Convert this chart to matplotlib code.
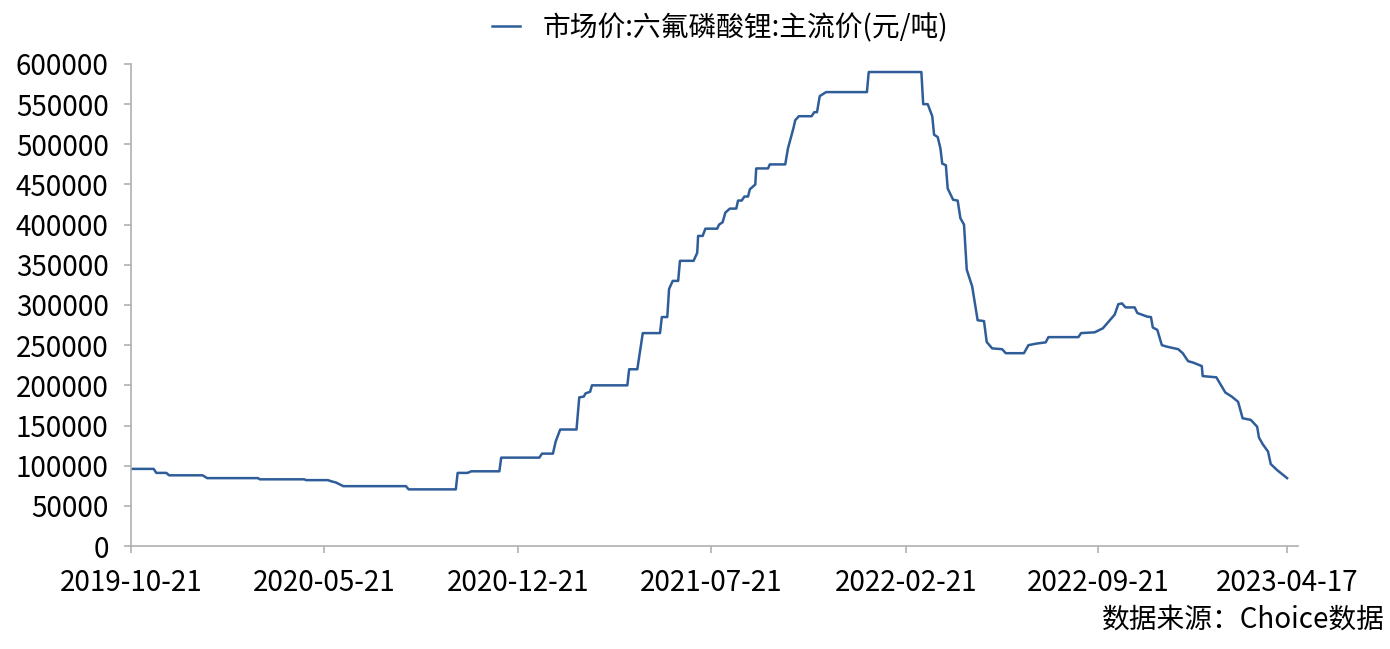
import matplotlib
matplotlib.use("Agg")
import matplotlib.pyplot as plt
import matplotlib.dates as mdates
import pandas as pd

plt.rcParams['font.family'] = ['Noto Sans CJK SC', 'DejaVu Sans']

# 市场价:六氟磷酸锂:主流价 (元/吨)，按图读取的拐点
dates = [
    "2019-10-21", "2019-11-15", "2019-11-18", "2019-11-29", "2019-12-02",
    "2020-01-08", "2020-01-13", "2020-03-09", "2020-03-11", "2020-04-29",
    "2020-05-01", "2020-05-25", "2020-05-29", "2020-06-03", "2020-06-11",
    "2020-08-19", "2020-08-22", "2020-10-13", "2020-10-15", "2020-10-26",
    "2020-10-30", "2020-11-30", "2020-12-02", "2021-01-13", "2021-01-16",
    "2021-01-28", "2021-01-31", "2021-02-05", "2021-02-23", "2021-02-26",
    "2021-03-03", "2021-03-05", "2021-03-10", "2021-03-12", "2021-04-20",
    "2021-04-22", "2021-05-01", "2021-05-07", "2021-05-26", "2021-05-28",
    "2021-06-03", "2021-06-05", "2021-06-09", "2021-06-15", "2021-06-17",
    "2021-07-02", "2021-07-06", "2021-07-07", "2021-07-12", "2021-07-15",
    "2021-07-28", "2021-07-30", "2021-08-03", "2021-08-06", "2021-08-11",
    "2021-08-18", "2021-08-20", "2021-08-24", "2021-08-27", "2021-08-31",
    "2021-09-02", "2021-09-08", "2021-09-09", "2021-09-22", "2021-09-24",
    "2021-10-11", "2021-10-14", "2021-10-20", "2021-10-22", "2021-10-26",
    "2021-11-09", "2021-11-12", "2021-11-15", "2021-11-18", "2021-11-25",
    "2022-01-09", "2022-01-11", "2022-03-10", "2022-03-12", "2022-03-17",
    "2022-03-22", "2022-03-24", "2022-03-28", "2022-03-31", "2022-04-02",
    "2022-04-06", "2022-04-08", "2022-04-14", "2022-04-19", "2022-04-22",
    "2022-04-26", "2022-04-29", "2022-05-05", "2022-05-11", "2022-05-18",
    "2022-05-21", "2022-05-27", "2022-06-07", "2022-06-11", "2022-07-01",
    "2022-07-06", "2022-07-15", "2022-07-25", "2022-07-28", "2022-08-30",
    "2022-09-02", "2022-09-17", "2022-09-26", "2022-10-09", "2022-10-13",
    "2022-10-17", "2022-10-21", "2022-10-31", "2022-11-03", "2022-11-14",
    "2022-11-18", "2022-11-20", "2022-11-25", "2022-11-30", "2022-12-06",
    "2022-12-18", "2022-12-23", "2022-12-29", "2023-01-03", "2023-01-13",
    "2023-01-14", "2023-01-29", "2023-02-08", "2023-02-15", "2023-02-22",
    "2023-02-27", "2023-03-08", "2023-03-15", "2023-03-17", "2023-03-21",
    "2023-03-27", "2023-03-30", "2023-04-06", "2023-04-17",
]
prices = [
    96000, 96000, 91000, 91000, 88000,
    88000, 84500, 84500, 83000, 83000,
    82000, 82000, 80500, 79000, 74500,
    74500, 70500, 70500, 91000, 91000,
    93000, 93000, 110000, 110000, 115000,
    115000, 130000, 145000, 145000, 185000,
    186000, 190000, 192000, 200000, 200000,
    220000, 220000, 265000, 265000, 285000,
    285000, 320000, 330000, 330000, 355000,
    355000, 365000, 386000, 386000, 395000,
    395000, 400000, 403000, 415000, 420000,
    420000, 430000, 430000, 435000, 435000,
    444000, 450000, 470000, 470000, 475000,
    475000, 495000, 520000, 530000, 535000,
    535000, 540000, 540000, 560000, 565000,
    565000, 590000, 590000, 550000, 550000,
    535000, 512000, 509000, 495000, 476000,
    474000, 445000, 431000, 430000, 408000,
    400000, 344000, 323000, 281000, 280000,
    254000, 246000, 245000, 240000, 240000,
    250000, 252000, 253500, 260000, 260000,
    265000, 266000, 271000, 288000, 301000,
    302000, 297000, 297000, 290000, 285500,
    285000, 272000, 269000, 250000, 248000,
    245000, 240000, 230000, 228500, 224000,
    211500, 210000, 191000, 186000, 179500,
    159000, 157000, 148500, 135000, 127000,
    117500, 102000, 94500, 84500,
]
tick_dates = ["2019-10-21", "2020-05-21", "2020-12-21", "2021-07-21",
              "2022-02-21", "2022-09-21", "2023-04-17"]
series_name = "市场价:六氟磷酸锂:主流价(元/吨)"
source_text = "数据来源：Choice数据"

x = pd.to_datetime(dates)
ticks = pd.to_datetime(tick_dates)

fig = plt.figure(figsize=(13.9, 6.49), dpi=100)
ax = fig.add_axes([0.0942, 0.1587, 0.8396, 0.7427])

line, = ax.plot(x, prices, color='#2F5D99', linewidth=1.8, label=series_name)

ax.set_xlim(pd.Timestamp("2019-10-21"), pd.Timestamp("2023-04-29"))
ax.set_ylim(0, 600000)
ax.set_yticks(range(0, 600001, 50000))
ax.set_xticks(ticks)
ax.xaxis.set_major_formatter(mdates.DateFormatter('%Y-%m-%d'))

for side in ['top', 'right']:
    ax.spines[side].set_visible(False)
for side in ['left', 'bottom']:
    ax.spines[side].set_color('#b0b0b0')
    ax.spines[side].set_linewidth(1.2)
ax.tick_params(axis='both', colors='#b0b0b0', labelcolor='black',
               labelsize=20, length=5, width=1.2, direction='out')
ax.tick_params(axis='y', pad=11)
ax.tick_params(axis='x', pad=11)

fig.legend(handles=[line], loc='center', bbox_to_anchor=(0.518, 0.957),
           frameon=False, fontsize=20, handlelength=1.0, handletextpad=0.8)
fig.text(0.996, 0.046, source_text, ha='right', va='center', fontsize=20)

fig.savefig("out.png", dpi=100)
